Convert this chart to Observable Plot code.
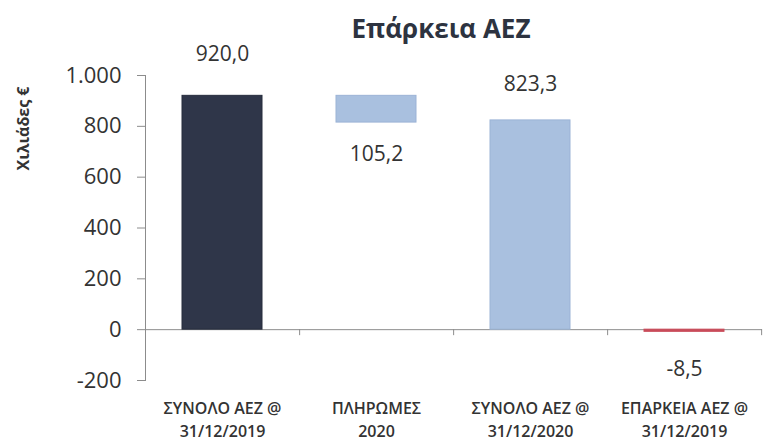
<!DOCTYPE html>
<html><head><meta charset="utf-8">
<script src="https://cdn.jsdelivr.net/npm/d3@7"></script>
<script src="https://cdn.jsdelivr.net/npm/@observablehq/plot@0.6"></script>
<style>body{margin:0;background:#fff}</style>
</head><body><div id="chart"></div>
<script>
const title = "Επάρκεια ΑΕΖ";
const yLabel = "Χιλιάδες €";
const categories = ["ΣΥΝΟΛΟ ΑΕΖ @\n31/12/2019", "ΠΛΗΡΩΜΕΣ\n2020", "ΣΥΝΟΛΟ ΑΕΖ @\n31/12/2020", "ΕΠΑΡΚΕΙΑ ΑΕΖ @\n31/12/2019"];
const values = [920.0, 105.2, 823.3, -8.5];
const kinds = ["total", "decrease", "total", "total"];
const yTicks = [-200, 0, 200, 400, 600, 800, 1000];

const loc = d3.formatLocale({decimal: ",", thousands: ".", grouping: [3], currency: ["", "€"], minus: "-"});
const fmtTick = loc.format(",.0f");
const fmtVal = loc.format(".1f");

// waterfall layout
let running = 0;
const rows = categories.map((cat, i) => {
  let start, end;
  if (kinds[i] === "decrease") { start = running; end = running - values[i]; }
  else { start = 0; end = values[i]; }
  running = end;
  return {cat, start, end, label: fmtVal(values[i]), i};
});

const barColors = ["#2f3649", "#a9c0df", "#a9c0df", "#c94c5a"];
const barStrokes = ["#262c3c", "#9bb3d6", "#9bb3d6", "#c94c5a"];
const labelDy = [-42, 32, -36, 37];
const axisColor = "#8c8c8c";
const textColor = "#333";
const step = (762 - 145) / categories.length;

const chart = Plot.plot({
  width: 764, height: 441,
  marginLeft: 145, marginRight: 2, marginTop: 75, marginBottom: 61,
  style: {fontFamily: "'Open Sans', sans-serif", color: textColor, background: "transparent"},
  x: {domain: categories, paddingInner: 0.48, paddingOuter: 0.24},
  y: {domain: [-200, 1000]},
  color: {type: "identity"},
  marks: [
    Plot.ruleY([0], {stroke: axisColor}),
    Plot.ruleX(categories, {x: d => d, y1: 0, y2: 0, dx: step / 2, insetBottom: -6, stroke: axisColor}),
    Plot.frame({anchor: "left", stroke: axisColor}),
    Plot.barY(rows, {x: "cat", y1: "start", y2: "end", fill: d => barColors[d.i], stroke: d => barStrokes[d.i], strokeWidth: 1}),
    Plot.axisY({ticks: yTicks, tickSize: 8, tickPadding: 16, tickFormat: fmtTick, fontSize: 22, stroke: axisColor, fill: textColor, label: null}),
    Plot.axisX({tickSize: 0, tickPadding: 17, fontSize: 16, fontWeight: 600, lineHeight: 1.44, fill: textColor, label: null}),
    ...rows.map((r, i) => Plot.text([r], {x: "cat", y: "end", text: "label", dy: labelDy[i], fontSize: 21, fill: textColor})),
    Plot.text([title], {frameAnchor: "top", dx: -13, dy: -46, lineAnchor: "middle", fontSize: 26, fontWeight: "bold", fill: "#2d3340"}),
    Plot.text([yLabel], {frameAnchor: "top-left", dx: -122, dy: 53, rotate: -90, textAnchor: "middle", lineAnchor: "middle", fontSize: 16, fontWeight: "bold", fill: textColor})
  ]
});
document.getElementById("chart").appendChild(chart);
</script>
</body></html>
